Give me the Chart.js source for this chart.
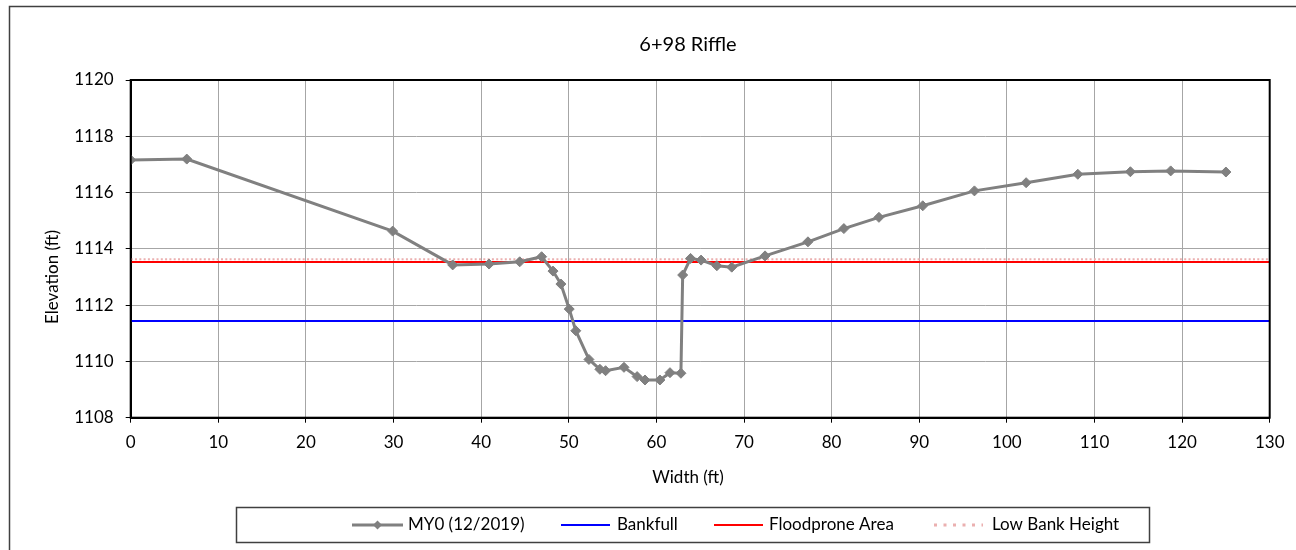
<!DOCTYPE html>
<html><head><meta charset="utf-8">
<script src="https://cdn.jsdelivr.net/npm/chart.js@4"></script>
<style>html,body{margin:0;padding:0;background:#fff;}#wrap{width:1296px;height:550px;position:relative;}</style>
</head><body><div id="wrap"><canvas id="c" width="1296" height="550"></canvas></div>
<script>
// ---- data ----
const chartTitle = '6+98 Riffle';
const xAxisTitle = 'Width (ft)';
const yAxisTitle = 'Elevation (ft)';
const seriesNames = ['MY0 (12/2019)', 'Bankfull', 'Floodprone Area', 'Low Bank Height'];
const widths = [0, 6.4, 29.9, 36.75, 40.9, 44.4, 46.9, 48.2, 49.1, 50.05, 50.8, 52.3, 53.55, 54.2, 56.3, 57.8, 58.7, 60.4, 61.55, 62.8, 63.0, 63.9, 65.1, 66.9, 68.6, 72.4, 77.3, 81.4, 85.4, 90.4, 96.3, 102.2, 108.1, 114.1, 118.7, 125.0];
const elevations = [1117.16, 1117.19, 1114.63, 1113.43, 1113.46, 1113.54, 1113.72, 1113.21, 1112.75, 1111.86, 1111.09, 1110.07, 1109.72, 1109.67, 1109.79, 1109.46, 1109.34, 1109.34, 1109.60, 1109.58, 1113.07, 1113.66, 1113.60, 1113.40, 1113.35, 1113.75, 1114.25, 1114.72, 1115.12, 1115.53, 1116.06, 1116.35, 1116.65, 1116.74, 1116.77, 1116.73];
const bankfullElev = 1111.44;
const floodproneElev = 1113.53;
const lowBankElev = 1113.63;
const lineSpan = [0, 130];
const xTicks = [0, 10, 20, 30, 40, 50, 60, 70, 80, 90, 100, 110, 120, 130];
const yTicks = [1108, 1110, 1112, 1114, 1116, 1118, 1120];

// ---- styles ----
const FONT = 'Lato, "Open Sans", sans-serif';
const colors = ['#808080', '#0000ff', '#ff0000', '#ebb0b0'];

function hline(v) { return lineSpan.map(x => ({ x: x, y: v })); }

const decor = {
  id: 'decor',
  beforeDraw(chart) {
    const ctx = chart.ctx;
    ctx.save();
    ctx.fillStyle = '#fff';
    ctx.fillRect(0, 0, chart.width, chart.height);
    ctx.strokeStyle = '#404040';
    ctx.lineWidth = 1.5;
    ctx.strokeRect(9.5, 6.5, 2000, 2000);
    ctx.restore();
  },
  afterDraw(chart) {
    const ctx = chart.ctx;
    const a = chart.chartArea;
    ctx.save();
    // plot frame
    ctx.strokeStyle = '#000';
    ctx.lineWidth = 2;
    ctx.strokeRect(a.left, a.top, a.right - a.left, a.bottom - a.top);
    // titles
    ctx.fillStyle = '#000';
    ctx.textAlign = 'center';
    ctx.textBaseline = 'middle';
    ctx.font = '20px ' + FONT;
    ctx.fillText(chartTitle, 688, 45);
    ctx.font = '17px ' + FONT;
    ctx.fillText(xAxisTitle, 688, 478);
    ctx.save();
    ctx.translate(53, 277);
    ctx.rotate(-Math.PI / 2);
    ctx.fillText(yAxisTitle, 0, 0);
    ctx.restore();
    // legend
    ctx.strokeStyle = '#404040';
    ctx.lineWidth = 1.5;
    ctx.strokeRect(236.5, 507.5, 913, 35);
    const ly = 525;
    const items = [
      { x0: 352, x1: 403, tx: 408 },
      { x0: 561, x1: 610, tx: 617 },
      { x0: 714, x1: 763, tx: 769 },
      { x0: 934, x1: 983, tx: 992 }
    ];
    ctx.textAlign = 'left';
    ctx.font = '17px ' + FONT;
    items.forEach((it, i) => {
      const ds = chart.data.datasets[i];
      ctx.save();
      ctx.strokeStyle = ds.borderColor;
      ctx.lineWidth = i === 0 ? 3 : 2;
      if (i === 3) { ctx.setLineDash([3, 6.5]); ctx.lineWidth = 3; }
      ctx.beginPath();
      ctx.moveTo(it.x0, ly);
      ctx.lineTo(it.x1, ly);
      ctx.stroke();
      ctx.restore();
      if (i === 0) {
        const cx = (it.x0 + it.x1) / 2;
        ctx.fillStyle = ds.pointBackgroundColor;
        ctx.beginPath();
        ctx.moveTo(cx, ly - 4.5); ctx.lineTo(cx + 4.5, ly); ctx.lineTo(cx, ly + 4.5); ctx.lineTo(cx - 4.5, ly);
        ctx.closePath(); ctx.fill();
      }
      ctx.fillStyle = '#000';
      ctx.fillText(ds.label, it.tx, ly);
    });
    ctx.restore();
  }
};

function build() {
  new Chart(document.getElementById('c'), {
    type: 'scatter',
    data: {
      datasets: [
        {
          label: seriesNames[0],
          data: widths.map((w, i) => ({ x: w, y: elevations[i] })),
          showLine: true, borderColor: colors[0], borderWidth: 3,
          pointStyle: 'rectRot', pointRadius: 5, pointBackgroundColor: colors[0],
          pointBorderColor: colors[0], pointBorderWidth: 1, tension: 0
        },
        {
          label: seriesNames[1], data: hline(bankfullElev), showLine: true,
          borderColor: colors[1], borderWidth: 2, pointRadius: 0
        },
        {
          label: seriesNames[2], data: hline(floodproneElev), showLine: true,
          borderColor: colors[2], borderWidth: 2, pointRadius: 0
        },
        {
          label: seriesNames[3], data: hline(lowBankElev), showLine: true,
          borderColor: colors[3], borderWidth: 2, borderDash: [2, 2.3], pointRadius: 0
        }
      ]
    },
    options: {
      responsive: false, animation: false, devicePixelRatio: 1,
      layout: { padding: { left: 70.7, top: 80, right: 26.3, bottom: 72.3 } },
      plugins: { legend: { display: false }, title: { display: false }, tooltip: { enabled: false } },
      scales: {
        x: {
          type: 'linear', min: 0, max: 130,
          afterBuildTicks: s => { s.ticks = xTicks.map(v => ({ value: v })); },
          afterFit: s => { s.height = 60; },
          grid: { color: '#a6a6a6', lineWidth: 1, tickColor: '#000', tickLength: 5 },
          border: { color: '#000', width: 2 },
          ticks: { color: '#000', font: { family: FONT, size: 17 }, padding: 10, maxRotation: 0, autoSkip: false,
                   callback: v => String(v) }
        },
        y: {
          type: 'linear', min: 1108, max: 1120,
          afterBuildTicks: s => { s.ticks = yTicks.map(v => ({ value: v })); },
          afterFit: s => { s.width = 60; },
          grid: { color: '#a6a6a6', lineWidth: 1, tickColor: '#000', tickLength: 5 },
          border: { color: '#000', width: 2 },
          ticks: { color: '#000', font: { family: FONT, size: 17 }, padding: 12, autoSkip: false,
                   callback: v => String(v) }
        }
      }
    },
    plugins: [decor]
  });
}
if (document.fonts && document.fonts.load) {
  Promise.all([document.fonts.load('17px Lato'), document.fonts.load('20px Lato')]).then(build, build);
} else { build(); }
</script></body></html>
